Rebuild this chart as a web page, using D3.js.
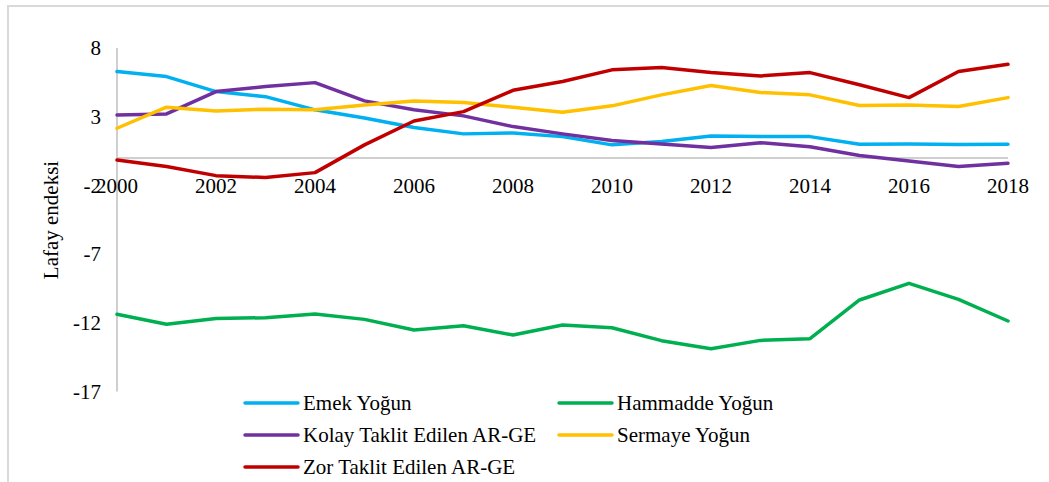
<!DOCTYPE html>
<html>
<head>
<meta charset="utf-8">
<script src="https://cdn.jsdelivr.net/npm/d3@7"></script>
<style>
	body { margin: 0; background: #fff; }
	text { font-family: "Liberation Serif", "Times New Roman", serif; fill: #000; }
</style>
</head>
<body>
<div id="chart"></div>
<script>
const years = d3.range(2000, 2019);
const yTicks = [-17, -12, -7, -2, 3, 8];
const xTicks = [2000, 2002, 2004, 2006, 2008, 2010, 2012, 2014, 2016, 2018];

const emek = [6.29, 5.92, 4.83, 4.46, 3.50, 2.91, 2.21, 1.75, 1.82, 1.55, 0.95, 1.19, 1.60, 1.55, 1.55, 1.00, 1.02, 0.97, 1.00];
const hammadde = [-11.38, -12.11, -11.68, -11.63, -11.36, -11.75, -12.53, -12.21, -12.89, -12.16, -12.36, -13.30, -13.89, -13.28, -13.16, -10.34, -9.13, -10.29, -11.87];
const kolay = [3.13, 3.20, 4.83, 5.19, 5.48, 4.15, 3.50, 3.06, 2.28, 1.75, 1.26, 1.02, 0.75, 1.11, 0.82, 0.17, -0.22, -0.63, -0.39];
const sermaye = [2.16, 3.69, 3.42, 3.55, 3.50, 3.86, 4.15, 4.03, 3.69, 3.33, 3.79, 4.59, 5.27, 4.76, 4.59, 3.81, 3.86, 3.74, 4.39];
const zor = [-0.15, -0.63, -1.29, -1.43, -1.07, 0.95, 2.69, 3.37, 4.92, 5.56, 6.41, 6.58, 6.21, 5.97, 6.21, 5.32, 4.39, 6.29, 6.82];

const seriesNames = ["Emek Yoğun", "Hammadde Yoğun", "Kolay Taklit Edilen AR-GE", "Sermaye Yoğun", "Zor Taklit Edilen AR-GE"];
const seriesValues = [emek, hammadde, kolay, sermaye, zor];
const colors = ["#00B0F0", "#00B050", "#7030A0", "#FFC000", "#C00000"];

const W = 1049, H = 482;

const svg = d3.select("#chart")
	.append("svg")
	.attr("width", W)
	.attr("height", H);

// outer frame (only top and left edges are visible)
svg.append("path")
	.attr("d", "M8,482 L8,6 L1049,6")
	.attr("fill", "none")
	.attr("stroke", "#d9d9d9")
	.attr("stroke-width", 2);

let xScale = d3.scaleLinear()
	.domain([2000, 2018])
	.range([117, 1008]);
let yScale = d3.scaleLinear()
	.domain([-17, 8])
	.range([391.5, 48]);

// y axis labels (plain hyphen for negatives, as in the source)
const yAxis = svg.append("g")
	.attr("transform", "translate(117,0)")
	.call(d3.axisLeft(yScale).tickValues(yTicks).tickSize(0).tickPadding(16).tickFormat(d => String(d)));
yAxis.select(".domain").remove();
yAxis.selectAll("text")
	.attr("font-size", 21)
	.style("font-family", "'Liberation Serif', 'Times New Roman', serif");

// vertical axis line
svg.append("line")
	.attr("x1", 117).attr("x2", 117)
	.attr("y1", yScale(8)).attr("y2", yScale(-17))
	.attr("stroke", "#bfbfbf")
	.attr("stroke-width", 1.5);

// horizontal axis line at zero
svg.append("line")
	.attr("x1", 117).attr("x2", 1008)
	.attr("y1", yScale(0)).attr("y2", yScale(0))
	.attr("stroke", "#bfbfbf")
	.attr("stroke-width", 1.5);

// x labels
svg.selectAll(".xlab")
	.data(xTicks)
	.enter().append("text")
	.attr("class", "xlab")
	.attr("x", d => xScale(d))
	.attr("y", 193)
	.attr("text-anchor", "middle")
	.attr("font-size", 21)
	.text(d => d);

// y axis title
svg.append("text")
	.attr("transform", "translate(58,220) rotate(-90)")
	.attr("text-anchor", "middle")
	.attr("font-size", 21)
	.text("Lafay endeksi");

// lines
const line = d3.line()
	.x((d, i) => xScale(years[i]))
	.y(d => yScale(d));

seriesValues.forEach((vals, k) => {
	svg.append("path")
		.attr("d", line(vals))
		.attr("fill", "none")
		.attr("stroke", colors[k])
		.attr("stroke-width", 3.5)
		.attr("stroke-linejoin", "round")
		.attr("stroke-linecap", "round");
});

// legend
const legendPos = [[245, 403], [559, 403], [245, 435], [559, 435], [245, 467]];
seriesNames.forEach((name, k) => {
	const [lx, ly] = legendPos[k];
	svg.append("line")
		.attr("x1", lx).attr("x2", lx + 53)
		.attr("y1", ly).attr("y2", ly)
		.attr("stroke", colors[k])
		.attr("stroke-width", 3.5)
		.attr("stroke-linecap", "round");
	svg.append("text")
		.attr("x", lx + 58)
		.attr("y", ly + 7)
		.attr("font-size", 21)
		.text(name);
});
</script>
</body>
</html>
